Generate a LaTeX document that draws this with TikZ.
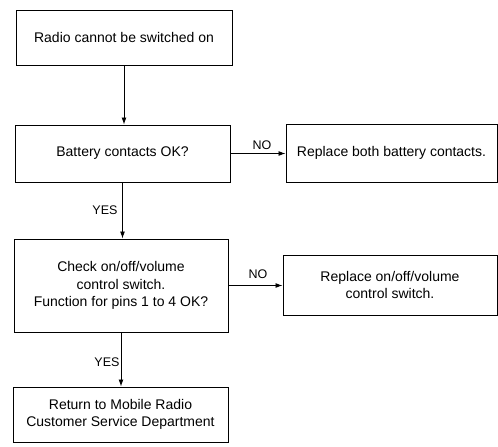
\documentclass[tikz,border=0pt]{standalone}
\usepackage{fontspec}
\setmainfont{Liberation Sans}
\usetikzlibrary{arrows.meta}
\begin{document}
\begin{tikzpicture}[x=1pt,y=-1pt,
  box/.style={draw, line width=1pt, rectangle, inner sep=0pt, align=center, font=\fontsize{14}{17.5}\selectfont},
  lbl/.style={font=\fontsize{12.5}{14}\selectfont, inner sep=0pt},
  conn/.style={line width=0.9pt, -{Latex[length=7pt,width=5pt]}}]
\useasboundingbox (0,0) rectangle (498,447);
\node[box, minimum width=216pt, minimum height=55pt] (b1) at (124,37.5) {Radio cannot be switched on};
\node[box, minimum width=215pt, minimum height=57pt] (b2) at (122.5,153.5) {Battery contacts OK?};
\node[box, minimum width=211pt, minimum height=58pt] (b3) at (391.5,153) {Replace both battery contacts.};
\node[box, minimum width=214pt, minimum height=93pt] (b4) at (121,285.5) {Check on/off/volume\\control switch.\\Function for pins 1 to 4 OK?};
\node[box, minimum width=214pt, minimum height=60pt] (b5) at (390,285) {Replace on/off/volume\\control switch.};
\node[box, minimum width=215pt, minimum height=55pt] (b6) at (120.5,414.5) {Return to Mobile Radio\\Customer Service Department};
\draw[conn] (b1.south) -- (b1.south |- b2.north);
\draw[conn] (b2.south) -- (b2.south |- b4.north);
\draw[conn] (b4.south) -- (b4.south |- b6.north);
\draw[conn] (b2.east) -- (b2.east -| b3.west);
\draw[conn] (b4.east) -- (b4.east -| b5.west);
\node[lbl] (y1) at (105,210) {YES};
\node[lbl] (y2) at (107,362) {YES};
\node[lbl] (n1) at (262,145) {NO};
\node[lbl] (n2) at (258,274) {NO};
\end{tikzpicture}
\end{document}
